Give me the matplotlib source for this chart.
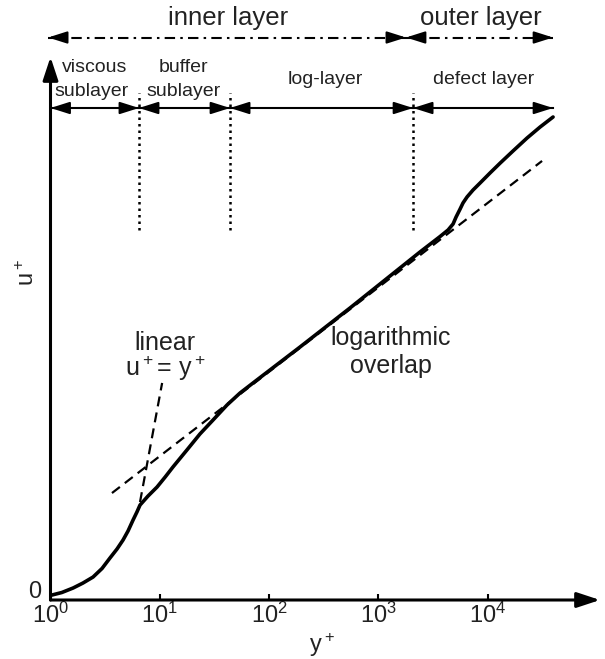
import matplotlib.pyplot as plt
from matplotlib.ticker import NullLocator

# == DATA ==
# mean velocity profile, y+ vs u+
yplus = [1.03, 1.27, 1.61, 1.98, 2.45, 2.96, 3.50, 4.06, 4.61, 5.12, 5.69,
         6.18, 6.59, 7.80, 9.43, 11.2, 13.2, 17.7, 23.3, 30.7, 41.2, 54.2,
         77.4, 192, 550, 2400, 3660, 4340, 4820, 5130, 5590, 5940, 6470,
         7330, 8510, 10500, 13000, 17000, 22900, 30100, 39600]
uplus = [0.33, 0.5, 0.8, 1.13, 1.53, 2.1, 2.8, 3.4, 4.0, 4.6, 5.33,
         5.87, 6.33, 6.93, 7.53, 8.2, 8.87, 10.0, 11.07, 12.0, 13.0, 13.8,
         14.67, 16.87, 19.47, 23.2, 24.23, 24.67, 25.07, 25.53, 26.07, 26.47, 26.87,
         27.33, 27.8, 28.47, 29.13, 29.93, 30.8, 31.53, 32.2]

# asymptotes (end points)
log_x = [3.65, 31400]
log_u = [7.13, 29.27]
lin_x = [6.59, 10.5]
lin_u = [6.53, 14.47]

# region limits in y+
sub_bounds = [1, 6.45, 43.9, 2075, 39600]
sub_names = [("viscous", "sublayer"), ("buffer", "sublayer"), ("log-layer",), ("defect layer",)]
layer_bounds = [0.95, 1786, 39600]
layer_names = ["inner layer", "outer layer"]

tick_vals = [1, 10, 100, 1000, 10000]
tick_labels = [r"$\mathdefault{10^{%d}}$" % k for k in range(5)]

# == CONFIG ==
W, H = 605, 659
plt.rcParams["font.family"] = ["Liberation Sans", "DejaVu Sans"]
plt.rcParams["mathtext.default"] = "regular"
TXT = "#222222"

fig = plt.figure(figsize=(W / 100, H / 100), dpi=100)
ax = fig.add_axes([50.5 / W, 59 / H, 549.5 / W, 600 / H])
xmax = 10 ** 5.027
ax.set_xscale("log")
ax.set_xlim(1, xmax)
ax.set_ylim(0, 40)
for s in ax.spines.values():
    s.set_visible(False)


def px(x, y):
    return x / W, 1 - y / H


def head(x, u, dx):
    # solid arrow head pointing at (x, u), from dx points away
    ax.annotate("", xy=(x, u), xytext=(dx, 0), textcoords="offset points",
                annotation_clip=False,
                arrowprops=dict(arrowstyle="-|>,head_length=0.82,head_width=0.26",
                                mutation_scale=14, lw=1.5, color="black",
                                shrinkA=0, shrinkB=0))


# -- axes with arrows --
for xy in [(xmax, 0), (1, 36.2)]:
    ax.annotate("", xy=xy, xytext=(1, 0), annotation_clip=False,
                arrowprops=dict(arrowstyle="-|>,head_length=1.0,head_width=0.33",
                                mutation_scale=14, lw=2.2, color="black",
                                shrinkA=0, shrinkB=0))

ax.set_xticks(tick_vals)
ax.set_xticklabels(tick_labels)
ax.xaxis.set_minor_locator(NullLocator())
ax.tick_params(axis="x", direction="in", length=4, width=1.5, pad=2,
               labelsize=17, labelcolor=TXT)
ax.set_yticks([])

# -- curves --
ax.plot(yplus, uplus, color="black", lw=2.6, solid_joinstyle="round",
        solid_capstyle="round", clip_on=False)
ax.plot(log_x, log_u, color="black", lw=1.6, dashes=(4.5, 2.8))
ax.plot(lin_x, lin_u, color="black", lw=1.6, dashes=(4.5, 2.8))

# -- sublayer arrows and dotted limits --
for i in range(len(sub_bounds) - 1):
    x0, x1 = sub_bounds[i], sub_bounds[i + 1]
    ax.plot([x0, x1], [32.8, 32.8], color="black", lw=1.5, clip_on=False)
    head(x0, 32.8, 12)
    head(x1, 32.8, -12)
for b in sub_bounds[1:-1]:
    ax.plot([b, b], [24.7, 33.8], color="black", lw=1.8, dashes=(1, 1.6),
            clip_on=False)

# -- inner / outer layer arrows (dash-dot) --
for i in range(len(layer_bounds) - 1):
    x0, x1 = layer_bounds[i], layer_bounds[i + 1]
    ax.plot([x0, x1], [37.5, 37.5], color="black", lw=1.5,
            dashes=(5, 2.5, 1.2, 2.5), clip_on=False)
    head(x0, 37.5, 12)
    head(x1, 37.5, -12)

# -- text --
big = dict(fontsize=18.5, color=TXT, ha="center", va="center")
small = dict(fontsize=14, color=TXT, ha="center", va="center")
fig.text(*px(228, 18), layer_names[0], **big)
fig.text(*px(481, 18), layer_names[1], **big)
fig.text(*px(95, 67), sub_names[0][0], **small)
fig.text(*px(92, 91), sub_names[0][1], **small)
fig.text(*px(183, 67), sub_names[1][0], **small)
fig.text(*px(184, 91), sub_names[1][1], **small)
fig.text(*px(325, 80), sub_names[2][0], **small)
fig.text(*px(484, 80), sub_names[3][0], **small)

mid = dict(fontsize=18, color=TXT, ha="center", va="center")
fig.text(*px(165, 343), "linear", **mid)
fig.text(*px(165, 368), "u$^+$= y$^+$", **mid)
fig.text(*px(391, 338), "logarithmic", **mid)
fig.text(*px(391, 366), "overlap", **mid)

fig.text(*px(35, 592), "0", fontsize=17, color=TXT, ha="center", va="center")
fig.text(*px(322, 645), "y$^+$", fontsize=17, color=TXT, ha="center", va="center")
fig.text(*px(28, 272), "u$^+$", fontsize=17, color=TXT, ha="center", va="center",
         rotation=90)

# -- OUT --
fig.savefig("out.png", dpi=100)
